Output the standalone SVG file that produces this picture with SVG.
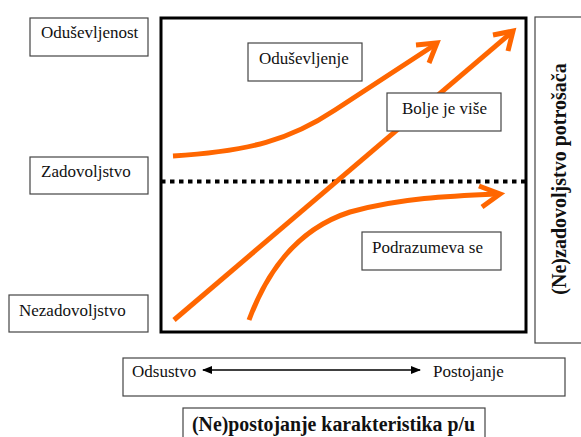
<svg xmlns="http://www.w3.org/2000/svg" width="581" height="437" viewBox="0 0 581 437">
<style>
.lbl{fill:#fff;stroke:#444;stroke-width:1.2}
.t{font-family:"Liberation Serif","Times New Roman","DejaVu Serif",serif;font-size:17px;font-weight:normal;fill:#111}
.b{font-family:"Liberation Serif","Times New Roman","DejaVu Serif",serif;font-size:20px;font-weight:bold;fill:#111}
.o{fill:none;stroke:#FF6600;stroke-width:5}
</style>
<defs>
<marker id="ah" markerWidth="10" markerHeight="8" refX="9" refY="4" orient="auto-start-reverse" markerUnits="userSpaceOnUse">
<path d="M0,0 L10,4 L0,8 Z" fill="#000"/>
</marker>
</defs>
<rect width="581" height="437" fill="#fff"/>
<g id="frame">
<rect x="161" y="18" width="365" height="314" fill="none" stroke="#000" stroke-width="3"/>
</g>
<g id="left-oduševljenost"><rect class="lbl" x="30" y="18" width="118" height="38"/><text class="t" x="41" y="38">Oduševljenost</text></g>
<g id="left-zadovoljstvo"><rect class="lbl" x="30" y="157" width="118" height="37"/><text class="t" x="41" y="177">Zadovoljstvo</text></g>
<g id="left-nezadovoljstvo"><rect class="lbl" x="9" y="295" width="139" height="37"/><text class="t" x="19" y="316">Nezadovoljstvo</text></g>
<g id="right-axis"><rect class="lbl" x="535" y="17" width="60" height="326"/><text class="b" transform="translate(566,179) rotate(-90)" text-anchor="middle">(Ne)zadovoljstvo potrošača</text></g>
<g id="x-scale"><rect class="lbl" x="123" y="358" width="442" height="38"/><text class="t" x="132" y="377">Odsustvo</text><text class="t" x="433" y="377">Postojanje</text></g>
<g id="x-title"><rect class="lbl" x="183" y="408" width="302" height="40"/><text class="b" x="192" y="431" textLength="283" lengthAdjust="spacingAndGlyphs">(Ne)postojanje karakteristika p/u</text></g>
<g id="connectors">
<line x1="161" y1="181.5" x2="526" y2="181.5" stroke="#000" stroke-width="4" stroke-dasharray="4.5,4.5"/>
<path class="o" d="M173,156 C250,151 290,140 335,110 L436,44"/>
<polyline class="o" points="416,45 437,43 429,63"/>
<path class="o" d="M174,320 L512,32"/>
<polyline class="o" points="493,35 513,31 508,51"/>
<path class="o" d="M249,320 C262,285 288,232 350,212 C400,198 450,196 498,194"/>
<polyline class="o" points="479,186 500,194 482,207"/>
<line x1="203" y1="370" x2="420" y2="370" stroke="#000" stroke-width="1.5" marker-start="url(#ah)" marker-end="url(#ah)"/>
</g>
<g id="oduševljenje"><rect class="lbl" x="248" y="43" width="114" height="38"/><text class="t" x="259" y="64">Oduševljenje</text></g>
<g id="bolje-je-vise"><rect class="lbl" x="387" y="93" width="114" height="38"/><text class="t" x="402" y="114">Bolje je više</text></g>
<g id="podrazumeva-se"><rect class="lbl" x="362" y="232" width="139" height="38"/><text class="t" x="372" y="253">Podrazumeva se</text></g>
</svg>
